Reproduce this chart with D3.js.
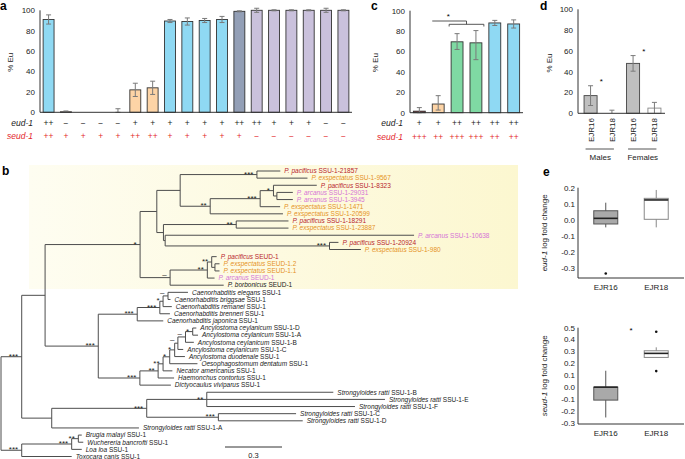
<!DOCTYPE html>
<html>
<head>
<meta charset="utf-8">
<style>
body { margin: 0; background: #fff; }
svg { display: block; font-family: "Liberation Sans", Arial, Helvetica, sans-serif; }
</style>
</head>
<body>
<svg width="685" height="459"></svg>
<script src="https://cdn.jsdelivr.net/npm/d3@7"></script>
<script>
// ---------------- data ----------------
// panel a
var aEud   = ['++','−','−','−','−','+','+','+','+','+','+','++','++','+','+','+','−','−'];
var aSeud  = ['++','+','+','+','+','++','++','+','+','+','+','+','−','−','−','−','−','−'];
var aMeans = [91, 0.5, 0, 0, 0, 22, 24, 89.5, 89, 90, 91, 99, 100, 100, 100, 100, 100, 100];
var aErrs  = [4.5, 0.8, 0, 0, 3.5, 6.5, 6.5, 1.5, 3.5, 2, 3, 0.5, 2, 0.5, 0.5, 0.5, 2, 0.5];
var aGroups = ['blue','orange','orange','orange','orange','orange','orange','blue','blue','blue','blue','slate','lilac','lilac','lilac','lilac','lilac','lilac'];

// panel c
var cEud   = ['+','+','++','++','++','++'];
var cSeud  = ['+++','++','+++','+++','++','++'];
var cMeans = [1.5, 8.5, 69.5, 68.5, 88, 87];
var cLow   = [0, 2.6, 62, 52, 85.5, 83];
var cHigh  = [5, 16.7, 77.5, 80.5, 90.5, 91];
var cGroups = ['maroon','orange','green','green','blue','blue'];

// panel d
var dSex    = ['Males','Females'];
var dStrain = ['EJR16','EJR18'];
var dMeans  = [[17, 0], [48, 5]];
var dErrs   = [[9.5, 3], [7.5, 5.5]];

// panel e : [low whisker, q1, median, q3, high whisker]
var eStrains = ['EJR16','EJR18'];
var eudStats  = [[-0.046, -0.025, 0.01, 0.057, 0.107], [-0.046, 0.004, 0.124, 0.134, 0.186]];
var eudOut    = [[-0.332], []];
var seudStats = [[-0.255, -0.109, 0.0, 0.0, 0.138], [0.25, 0.25, 0.284, 0.306, 0.335]];
var seudOut   = [[], [0.466, 0.135]];

// panel b : internal nodes [id, parent, branch length, support]
var treeNodes = [
  ['root', '', 0, ''],
  ['A', 'root', 0.109, '***'],
  ['C1', 'A', 0.123, ''],
  ['P', 'C1', 0.5, '*'],
  ['S', 'P', 0.088, ''],
  ['N2', 'S', 0.123, ''],
  ['N1', 'N2', 0.404, '***'],
  ['N3', 'N2', 0.158, '**'],
  ['N4', 'N3', 0.263, '***'],
  ['N5', 'N4', 0.07, '*'],
  ['N6', 'N5', 0.018, ''],
  ['N8', 'S', 0.035, ''],
  ['N7', 'N8', 0.383, '**'],
  ['N9', 'N8', 0.009, ''],
  ['N10', 'N9', 0.865, '***'],
  ['E', 'P', 0.158, '–'],
  ['E2', 'E', 0.196, '**'],
  ['E3', 'E2', 0.023, '**'],
  ['E4', 'E3', 0.017, ''],
  ['R', 'C1', 0.28, '***'],
  ['Cae', 'R', 0.205, '***'],
  ['C2', 'Cae', 0.119, '***'],
  ['C3', 'C2', 0.017, '*'],
  ['C4', 'C3', 0.026, '–'],
  ['ST', 'R', 0.219, '***'],
  ['A7', 'ST', 0.096, '**'],
  ['A6', 'A7', 0.026, '**'],
  ['A5', 'A6', 0.035, '*'],
  ['A4', 'A5', 0.026, '*'],
  ['A3', 'A4', 0.017, '–'],
  ['A2', 'A3', 0.04, '–'],
  ['A1', 'A2', 0.038, '*'],
  ['SRn', 'A', 0.158, ''],
  ['SR', 'SRn', 0.5, '***'],
  ['SR2', 'SR', 0.316, '**'],
  ['SR3', 'SR', 0.377, '***'],
  ['B', 'root', 0.109, '***'],
  ['F1', 'B', 0.263, '***'],
  ['F2', 'F1', 0.035, '**']
];

// leaves, top to bottom [id, parent, branch length, species, gene]
var treeLeaves = [
  ['pp21857', 'N1', 0.123, 'P. pacificus', 'SSU-1-21857'],
  ['pe9567', 'N1', 0.266, 'P. exspectatus', 'SSU-1-9567'],
  ['pp8323', 'N5', 0.228, 'P. pacificus', 'SSU-1-8323'],
  ['pa29031', 'N6', 0.084, 'P. arcanus', 'SSU-1-29031'],
  ['pa3945', 'N6', 0.084, 'P. arcanus', 'SSU-1-3945'],
  ['pe1471', 'N4', 0.105, 'P. exspectatus', 'SSU-1-1471'],
  ['pe20599', 'N3', 0.383, 'P. exspectatus', 'SSU-1-20599'],
  ['pp18291', 'N7', 0.275, 'P. pacificus', 'SSU-1-18291'],
  ['pe23887', 'N7', 0.275, 'P. exspectatus', 'SSU-1-23887'],
  ['pa10638', 'N9', 1.31, 'P. arcanus', 'SSU-1-10638'],
  ['pp20924', 'N10', 0.047, 'P. pacificus', 'SSU-1-20924'],
  ['pe980', 'N10', 0.165, 'P. exspectatus', 'SSU-1-980'],
  ['ppSEUD1', 'E3', 0.026, 'P. pacificus', 'SEUD-1'],
  ['peSEUD12', 'E4', 0.024, 'P. exspectatus', 'SEUD-1.2'],
  ['peSEUD11', 'E4', 0.024, 'P. exspectatus', 'SEUD-1.1'],
  ['paSEUD1', 'E2', 0.038, 'P. arcanus', 'SEUD-1'],
  ['pbSEUD1', 'E', 0.282, 'P. borbonicus', 'SEUD-1'],
  ['ce', 'C4', 0.105, 'Caenorhabditis elegans', 'SSU-1'],
  ['cb', 'C4', 0.013, 'Caenorhabditis briggsae', 'SSU-1'],
  ['cr', 'C3', 0.046, 'Caenorhabditis remanei', 'SSU-1'],
  ['cbr', 'C2', 0.053, 'Caenorhabditis brenneri', 'SSU-1'],
  ['cj', 'Cae', 0.137, 'Caenorhabditis japonica', 'SSU-1'],
  ['acD', 'A1', 0.019, 'Ancylostoma ceylanicum', 'SSU-1-D'],
  ['acA', 'A1', 0.028, 'Ancylostoma ceylanicum', 'SSU-1-A'],
  ['acB', 'A2', 0.044, 'Ancylostoma ceylanicum', 'SSU-1-B'],
  ['acC', 'A3', 0.028, 'Ancylostoma ceylanicum', 'SSU-1-C'],
  ['ad', 'A4', 0.054, 'Ancylostoma duodenale', 'SSU-1'],
  ['od', 'A5', 0.146, 'Oesophagostomum dentatum', 'SSU-1'],
  ['na', 'A6', 0.049, 'Necator americanus', 'SSU-1'],
  ['hc', 'A7', 0.084, 'Haemonchus contortus', 'SSU-1'],
  ['dv', 'ST', 0.163, 'Dictyocaulus viviparus', 'SSU-1'],
  ['srB', 'SR2', 0.666, 'Strongyloides ratti', 'SSU-1-B'],
  ['srE', 'SR2', 0.938, 'Strongyloides ratti', 'SSU-1-E'],
  ['srF', 'SR2', 0.78, 'Strongyloides ratti', 'SSU-1-F'],
  ['srC', 'SR3', 0.409, 'Strongyloides ratti', 'SSU-1-C'],
  ['srD', 'SR3', 0.444, 'Strongyloides ratti', 'SSU-1-D'],
  ['srA', 'SRn', 0.459, 'Strongyloides ratti', 'SSU-1-A'],
  ['bm', 'F2', 0.018, 'Brugia malayi', 'SSU-1'],
  ['wb', 'F2', 0.026, 'Wuchereria bancrofti', 'SSU-1'],
  ['ll', 'F1', 0.053, 'Loa loa', 'SSU-1'],
  ['tc', 'B', 0.263, 'Toxocara canis', 'SSU-1']
];
var scaleBarLength = 0.3;

// ---------------- styles ----------------
var palette = {blue: '#8fd9f3', orange: '#fdd4a6', slate: '#939fb6', lilac: '#cac1dc',
  maroon: '#7a2a2c', green: '#7fd9a3'};
var speciesColor = {'P. pacificus': '#b81d2c', 'P. exspectatus': '#e5921f', 'P. arcanus': '#d574d6'};
var red = '#e3262b';
var errColor = '#7a7a7a';

var svg = d3.select('svg');

function panelLabel(t, x, y) {
  svg.append('text').attr('x', x).attr('y', y)
    .attr('font-size', 12).attr('font-weight', 'bold').text(t);
}

function yTitle(g, x, y, parts) {
  var t = g.append('text')
    .attr('transform', 'translate(' + x + ',' + y + ') rotate(-90)')
    .attr('text-anchor', 'middle').attr('font-size', 8).attr('fill', '#222');
  parts.forEach(function(p) {
    t.append('tspan').attr('font-style', p[1] ? 'italic' : null).text(p[0]);
  });
}

// bar chart with genotype rows, used for a and c
function genotypeBars(opt) {
  var g = svg.append('g');
  var n = opt.means.length;
  var x = d3.scaleBand().domain(d3.range(n)).range(opt.xr)
    .paddingInner(0.37).paddingOuter(0.18);
  var y = d3.scaleLinear().domain([0, 100]).range(opt.yr);
  var bw = x.bandwidth();

  g.selectAll('.tick').data(d3.range(0, 101, 20)).enter().append('text')
    .attr('x', opt.xr[0] - 5).attr('y', function(d) { return y(d); })
    .attr('dy', '0.35em').attr('text-anchor', 'end').attr('font-size', 8).attr('fill', '#222')
    .text(function(d) { return d; });

  g.selectAll('rect').data(opt.means).enter().append('rect')
    .attr('x', function(d, i) { return x(i); })
    .attr('y', function(d) { return y(d); })
    .attr('width', bw)
    .attr('height', function(d) { return y(0) - y(d); })
    .attr('fill', function(d, i) { return palette[opt.groups[i]]; })
    .attr('stroke', '#333').attr('stroke-width', 0.9);

  // error bars
  opt.means.forEach(function(m, i) {
    if (opt.hi[i] <= opt.lo[i]) return;
    var cx = x(i) + bw / 2;
    var e = g.append('g').attr('stroke', errColor).attr('stroke-width', 1);
    e.append('line').attr('x1', cx).attr('x2', cx).attr('y1', y(opt.lo[i])).attr('y2', y(opt.hi[i]));
    e.append('line').attr('x1', cx - 2.5).attr('x2', cx + 2.5).attr('y1', y(opt.lo[i])).attr('y2', y(opt.lo[i]));
    e.append('line').attr('x1', cx - 2.5).attr('x2', cx + 2.5).attr('y1', y(opt.hi[i])).attr('y2', y(opt.hi[i]));
  });

  g.append('line').attr('x1', opt.xr[0]).attr('x2', opt.xr[0])
    .attr('y1', y(0)).attr('y2', y(100)).attr('stroke', '#333');
  g.append('line').attr('x1', opt.xr[0]).attr('x2', opt.xr[1])
    .attr('y1', y(0)).attr('y2', y(0)).attr('stroke', '#333');

  var rows = [['eud-1', opt.eud, '#222', opt.yr[0] + 10.5], ['seud-1', opt.seud, red, opt.yr[0] + 24]];
  rows.forEach(function(r) {
    g.append('text').attr('x', opt.xr[0] - 7).attr('y', r[3]).attr('dy', '0.35em')
      .attr('text-anchor', 'end').attr('font-size', 8.5).attr('font-style', 'italic')
      .attr('fill', r[2]).text(r[0]);
    g.selectAll(null).data(r[1]).enter().append('text')
      .attr('x', function(d, i) { return x(i) + bw / 2; })
      .attr('y', r[3]).attr('dy', '0.35em').attr('text-anchor', 'middle')
      .attr('font-size', 8.5).attr('fill', r[2]).text(function(d) { return d; });
  });

  yTitle(g, opt.titleX, (opt.yr[0] + opt.yr[1]) / 2 + 1, [['% Eu', false]]);
  return {x: x, y: y, g: g};
}

// ---------------- panel a ----------------
panelLabel('a', 0, 10);
var aErrLow = aMeans.map(function(m, i) { return Math.max(0, m - aErrs[i]); });
var aErrHigh = aMeans.map(function(m, i) { return m + aErrs[i]; });
genotypeBars({means: aMeans, lo: aErrLow, hi: aErrHigh, groups: aGroups, eud: aEud, seud: aSeud,
  xr: [40, 352], yr: [112.3, 10.3], titleX: 13});

// ---------------- panel c ----------------
panelLabel('c', 371, 10);
var pc = genotypeBars({means: cMeans, lo: cLow, hi: cHigh, groups: cGroups, eud: cEud, seud: cSeud,
  xr: [410, 523], yr: [112.7, 10.7], titleX: 378});
(function() {
  var x = pc.x, bw = x.bandwidth();
  var mid = (x(2) + x(3) + bw) / 2;
  var b = pc.g.append('g').attr('stroke', '#444').attr('fill', 'none').attr('stroke-width', 0.9);
  b.append('path').attr('d', 'M' + x(1) + ',21H' + mid + 'V24.3');
  b.append('path').attr('d', 'M' + (x(2) - 2) + ',26.5V24.3H' + (x(3) + bw + 2) + 'V26.5');
  pc.g.append('text').attr('x', (x(1) + mid) / 2 - 1).attr('y', 18.5)
    .attr('text-anchor', 'middle').attr('font-size', 8).text('*');
})();

// ---------------- panel d ----------------
panelLabel('d', 540, 10);
(function() {
  var g = svg.append('g');
  var x0 = d3.scaleBand().domain(dSex).range([580, 665]);
  var x1 = d3.scaleBand().domain(dStrain).range([0, x0.bandwidth()]).paddingInner(0.39).paddingOuter(0.19);
  var y = d3.scaleLinear().domain([0, 100]).range([113.3, 9.3]);
  var bw = x1.bandwidth();

  g.selectAll('.tick').data(d3.range(0, 101, 20)).enter().append('text')
    .attr('x', 573).attr('y', function(d) { return y(d); }).attr('dy', '0.35em')
    .attr('text-anchor', 'end').attr('font-size', 8).attr('fill', '#222').text(function(d) { return d; });

  dSex.forEach(function(sex, si) {
    dStrain.forEach(function(st, ti) {
      var m = dMeans[si][ti], e = dErrs[si][ti];
      var bx = x0(sex) + x1(st), cx = bx + bw / 2;
      if (m > 0) {
        g.append('rect').attr('x', bx).attr('y', y(m)).attr('width', bw).attr('height', y(0) - y(m))
          .attr('fill', ti === 0 ? '#bfbfbf' : '#fff')
          .attr('stroke', ti === 0 ? '#444' : '#888').attr('stroke-width', 0.9);
      }
      var lo = Math.max(0, m - e), hi = m + e;
      var eg = g.append('g').attr('stroke', errColor);
      eg.append('line').attr('x1', cx).attr('x2', cx).attr('y1', y(lo)).attr('y2', y(hi));
      eg.append('line').attr('x1', cx - 2.5).attr('x2', cx + 2.5).attr('y1', y(hi)).attr('y2', y(hi));
      if (lo > 0) eg.append('line').attr('x1', cx - 2.5).attr('x2', cx + 2.5).attr('y1', y(lo)).attr('y2', y(lo));
      g.append('text').attr('transform', 'translate(' + (cx + 3) + ',118) rotate(-90)')
        .attr('text-anchor', 'end').attr('font-size', 8).attr('fill', '#222').text(st);
    });
    var c16 = x0(sex) + x1(dStrain[0]) + bw / 2, c18 = x0(sex) + x1(dStrain[1]) + bw / 2;
    var top = y(dMeans[si][0] + dErrs[si][0]);
    g.append('text').attr('x', (c16 + c18) / 2).attr('y', top - 1.5)
      .attr('text-anchor', 'middle').attr('font-size', 8).text('*');
    g.append('line').attr('x1', c16 - 5).attr('x2', c18 + 2).attr('y1', 149).attr('y2', 149)
      .attr('stroke', '#555');
    g.append('text').attr('x', (c16 + c18) / 2 - 1).attr('y', 160).attr('text-anchor', 'middle')
      .attr('font-size', 8).attr('fill', '#222').text(sex);
  });

  g.append('line').attr('x1', 578).attr('x2', 578).attr('y1', y(0)).attr('y2', y(100)).attr('stroke', '#333');
  g.append('line').attr('x1', 578).attr('x2', 665).attr('y1', y(0)).attr('y2', y(0)).attr('stroke', '#333');
  yTitle(g, 552, 63, [['% Eu', false]]);
})();

// ---------------- panel e ----------------
panelLabel('e', 543, 176);
function boxPanel(stats, outs, domain, yr, ticks, gene, starY) {
  var g = svg.append('g');
  var x = d3.scalePoint().domain(eStrains).range([578, 684]).padding(0.55);
  var y = d3.scaleLinear().domain(domain).range(yr);
  var fmt = function(d) { return d3.format('.1f')(d).replace('−', '-'); };
  g.selectAll('.tick').data(ticks).enter().append('text')
    .attr('x', 575).attr('y', function(d) { return y(d); }).attr('dy', '0.35em')
    .attr('text-anchor', 'end').attr('font-size', 8).attr('fill', '#222').text(fmt);
  var bw = 24;
  eStrains.forEach(function(s, i) {
    var st = stats[i], cx = x(s);
    var stroke = i === 0 ? '#555' : '#888';
    g.append('line').attr('x1', cx).attr('x2', cx).attr('y1', y(st[0])).attr('y2', y(st[4]))
      .attr('stroke', stroke);
    g.append('rect').attr('x', cx - bw / 2).attr('y', y(st[3])).attr('width', bw)
      .attr('height', Math.max(0.5, y(st[1]) - y(st[3])))
      .attr('fill', i === 0 ? '#a9a9a9' : '#fff').attr('stroke', stroke);
    g.append('line').attr('x1', cx - bw / 2).attr('x2', cx + bw / 2).attr('y1', y(st[2])).attr('y2', y(st[2]))
      .attr('stroke', '#222').attr('stroke-width', 1.6);
    g.selectAll(null).data(outs[i]).enter().append('circle')
      .attr('cx', cx).attr('cy', function(d) { return y(d); }).attr('r', 1.3).attr('fill', '#111');
    g.append('text').attr('x', cx).attr('y', yr[0] + 12).attr('text-anchor', 'middle')
      .attr('font-size', 8).attr('fill', '#222').text(s);
  });
  g.append('line').attr('x1', 578).attr('x2', 578).attr('y1', yr[0]).attr('y2', y(ticks[ticks.length - 1]))
    .attr('stroke', '#333');
  g.append('line').attr('x1', 578).attr('x2', 684).attr('y1', yr[0]).attr('y2', yr[0]).attr('stroke', '#333');
  yTitle(g, 547, (yr[0] + yr[1]) / 2, [[gene, true], [' log fold change', false]]);
  if (starY) {
    g.append('text').attr('x', (x(eStrains[0]) + x(eStrains[1])) / 2).attr('y', y(starY) + 5)
      .attr('text-anchor', 'middle').attr('font-size', 8).text('*');
  }
}
boxPanel(eudStats, eudOut, [-0.36, 0.2], [278, 187.7], [-0.3, -0.2, -0.1, 0, 0.1, 0.2], 'eud-1', null);
boxPanel(seudStats, seudOut, [-0.31, 0.5], [424, 327.7],
  [-0.3, -0.2, -0.1, 0, 0.1, 0.2, 0.3, 0.4, 0.5], 'seud-1', 0.5);

// ---------------- panel b ----------------
panelLabel('b', 2, 175);
(function() {
  var g = svg.append('g');
  var grad = svg.append('defs').append('linearGradient').attr('id', 'yel');
  grad.append('stop').attr('offset', '0%').attr('stop-color', '#fefdf1');
  grad.append('stop').attr('offset', '100%').attr('stop-color', '#fcf7d0');
  g.append('rect').attr('x', 29).attr('y', 165).attr('width', 489).attr('height', 124)
    .attr('fill', 'url(#yel)');

  var rows = treeNodes.map(function(d) { return {id: d[0], parent: d[1], len: d[2], support: d[3]}; })
    .concat(treeLeaves.map(function(d) {
      return {id: d[0], parent: d[1], len: d[2], species: d[3], gene: d[4]};
    }));
  var root = d3.stratify().id(function(d) { return d.id; })
    .parentId(function(d) { return d.parent || null; })(rows);

  var x = d3.scaleLinear().domain([0, 1]).range([1, 191]);
  var leafY = d3.scalePoint().domain(treeLeaves.map(function(d) { return d[0]; })).range([171, 456.5]);

  root.eachBefore(function(n) { n.dist = n.parent ? n.parent.dist + n.data.len : 0; });
  root.eachAfter(function(n) {
    if (!n.children) { n.y = leafY(n.id); return; }
    var ys = n.children.map(function(c) { return c.y; });
    n.y = (d3.min(ys) + d3.max(ys)) / 2;
  });

  var lines = g.append('g').attr('stroke', '#4d4d4d').attr('stroke-width', 1).attr('fill', 'none');
  root.descendants().forEach(function(n) {
    if (n.parent) {
      lines.append('path').attr('d', 'M' + x(n.parent.dist) + ',' + n.y + 'H' + x(n.dist));
    }
    if (n.children) {
      var ys = n.children.map(function(c) { return c.y; });
      lines.append('path').attr('d', 'M' + x(n.dist) + ',' + d3.min(ys) + 'V' + d3.max(ys));
    }
  });

  // support values
  g.selectAll('.sup').data(root.descendants().filter(function(n) { return n.data.support; }))
    .enter().append('text')
    .attr('x', function(n) { return x(n.dist) - 3.5; })
    .attr('y', function(n) { return n.data.support === '–' ? n.y - 1 : n.y + 2.2; })
    .attr('text-anchor', 'end').attr('font-size', 8).attr('fill', '#222')
    .text(function(n) { return n.data.support; });

  // tip labels
  var tips = g.selectAll('.tip').data(root.leaves()).enter().append('text')
    .attr('x', function(n) { return x(n.dist) + 4; })
    .attr('y', function(n) { return n.y; }).attr('dy', '0.35em')
    .attr('font-size', 6.5)
    .attr('fill', function(n) { return speciesColor[n.data.species] || '#1a1a1a'; });
  tips.append('tspan').attr('font-style', 'italic').text(function(n) { return n.data.species; });
  tips.append('tspan').text(function(n) { return ' ' + n.data.gene; });

  // scale bar
  var sb0 = 225, sb1 = sb0 + x(scaleBarLength) - x(0);
  g.append('line').attr('x1', sb0).attr('x2', sb1).attr('y1', 447).attr('y2', 447)
    .attr('stroke', '#333');
  g.append('text').attr('x', (sb0 + sb1) / 2).attr('y', 457.5).attr('text-anchor', 'middle')
    .attr('font-size', 7.5).attr('fill', '#222').text(scaleBarLength);
})();
</script>
</body>
</html>
